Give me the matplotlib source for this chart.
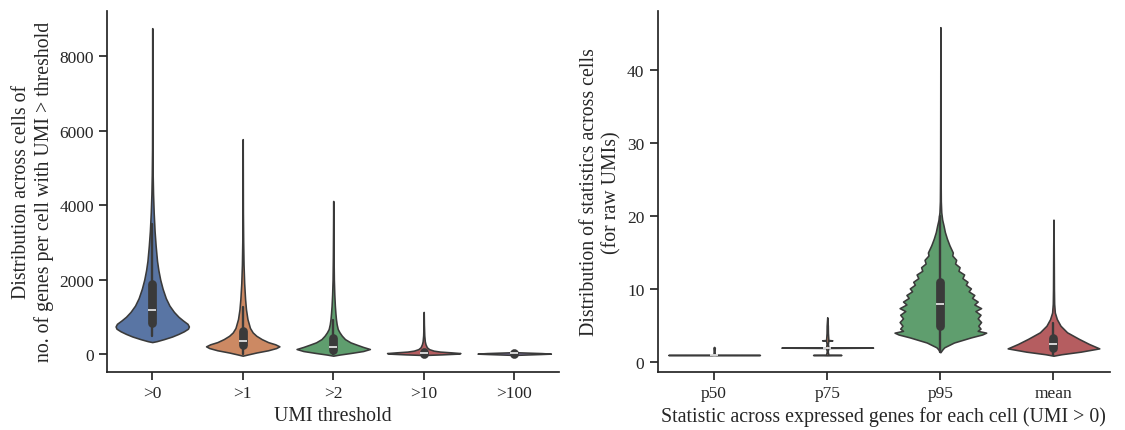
import numpy as np
import seaborn as sns
from matplotlib import pyplot as plt
from matplotlib import rcParams

sns.set_style("ticks")
rcParams['font.family'] = ['Liberation Serif', 'DejaVu Serif']
rcParams['xtick.labelsize'] = 12.5
rcParams['ytick.labelsize'] = 12.5
rcParams['axes.labelsize'] = 14.3
rcParams['axes.linewidth'] = 1.25
rcParams['xtick.major.width'] = 1.25
rcParams['ytick.major.width'] = 1.25
rcParams['xtick.major.size'] = 6
rcParams['ytick.major.size'] = 6

# ---- left panel: genes per cell above each UMI threshold ----
left_cats = [">0", ">1", ">2", ">10", ">100"]

# violin outlines: value levels and half widths
gt0_y = [320, 345, 400, 470, 540, 610, 680, 740, 810, 900, 1000, 1130, 1300, 1500,
         1750, 2000, 2250, 2500, 2900, 3300, 3800, 4300, 4800, 5500, 6500, 8750]
gt0_w = [0, 0.05, 0.13, 0.22, 0.29, 0.35, 0.395, 0.405, 0.39, 0.34, 0.29, 0.24, 0.19, 0.15,
         0.115, 0.088, 0.068, 0.053, 0.038, 0.026, 0.016, 0.009, 0.005, 0.002, 0.001, 0]

gt1_y = [-45, -10, 40, 100, 160, 206, 260, 320, 400, 490, 580, 700, 940, 1200, 1480,
         1900, 2400, 3000, 3800, 5770]
gt1_w = [0, 0.06, 0.15, 0.28, 0.37, 0.405, 0.36, 0.28, 0.21, 0.15, 0.11, 0.08, 0.052, 0.036, 0.026,
         0.016, 0.009, 0.005, 0.002, 0]

gt2_y = [-45, -15, 30, 80, 134, 190, 250, 313, 400, 492, 580, 671, 800, 940, 1100, 1300,
         1600, 2000, 2600, 3300, 4110]
gt2_w = [0, 0.07, 0.2, 0.33, 0.405, 0.33, 0.26, 0.19, 0.13, 0.095, 0.07, 0.05, 0.038, 0.03, 0.024, 0.018,
         0.012, 0.007, 0.004, 0.002, 0]

gt10_y = [-27, -10, 10, 25, 45, 65, 90, 130, 180, 260, 340, 500, 800, 1130]
gt10_w = [0, 0.2, 0.38, 0.405, 0.3, 0.18, 0.11, 0.06, 0.035, 0.02, 0.012, 0.006, 0.002, 0]

gt100_y = [-25, 0, 10, 25, 45, 70]
gt100_w = [0, 0.3, 0.405, 0.3, 0.05, 0]

# inner box: whisker low, q1, median, q3, whisker high
left_box = [[490, 840, 1180, 1890, 3500],
            [0, 230, 360, 620, 1250],
            [0, 100, 200, 420, 900],
            [0, 10, 35, 55, 115],
            [0, 5, 15, 25, 40]]

# ---- right panel: per-cell statistics of raw UMIs ----
right_cats = ["p50", "p75", "p95", "mean"]

p50_y = [0.98, 1.0, 1.02, 1.04, 1.5, 2.0, 2.1]
p50_w = [0, 0.405, 0.02, 0.006, 0.004, 0.006, 0]

p75_y = [0.95, 1.0, 1.05, 1.5, 1.96, 2.0, 2.04, 2.5, 2.95, 3.0, 3.05, 4.0, 5.0, 6.15]
p75_w = [0, 0.125, 0.01, 0.004, 0.01, 0.405, 0.01, 0.006, 0.01, 0.045, 0.01, 0.006, 0.005, 0]

p95_y = [1.37, 1.8, 2.05, 2.7, 3.4, 3.8, 4.05, 4.3, 4.6, 5.0, 5.5, 6.0, 6.5, 7.0, 7.4, 7.9,
         8.3, 8.8, 9.2, 9.7, 10.1, 10.6, 11.0, 11.5, 12.0, 12.5, 13.0, 13.5, 14.0, 14.6,
         15.0, 16.0, 16.9, 17.8, 18.7, 19.5, 20.5, 22, 26, 35, 45.8]
p95_w = [0, 0.02, 0.035, 0.12, 0.27, 0.37, 0.405, 0.33, 0.355, 0.335, 0.36, 0.33, 0.355, 0.31, 0.36, 0.30,
         0.33, 0.28, 0.30, 0.25, 0.27, 0.225, 0.24, 0.195, 0.21, 0.16, 0.17, 0.13, 0.14, 0.105,
         0.11, 0.08, 0.058, 0.04, 0.028, 0.016, 0.008, 0.004, 0.002, 0.001, 0]

mean_y = [0.9, 1.1, 1.45, 1.9, 2.5, 3.2, 4.1, 5.0, 5.9, 6.8, 8, 10, 13, 16, 19.5]
mean_w = [0, 0.07, 0.24, 0.405, 0.315, 0.225, 0.12, 0.062, 0.03, 0.012, 0.006, 0.004, 0.003, 0.002, 0]

right_box = [[1, 1, 1, 1, 1],
             [2, 2, 2, 2, 2],
             [1.4, 5, 8, 11, 20],
             [1.0, 1.9, 2.5, 3.3, 5.4]]

palette = [sns.desaturate(c, 0.75) for c in sns.color_palette("deep")]
line_col = "#3a3a3a"


def draw_violin(ax, pos, ys, ws, color, box):
    ys = np.array(ys)
    ws = np.array(ws)
    ax.fill_betweenx(ys, pos - ws, pos + ws, facecolor=color, edgecolor=line_col,
                     linewidth=1.15, zorder=2)
    lo, q1, med, q3, hi = box
    if hi > lo:
        ax.plot([pos, pos], [lo, hi], color=line_col, lw=1.7, solid_capstyle='round', zorder=3)
    if q3 > q1:
        ax.plot([pos, pos], [q1, q3], color=line_col, lw=6.3, solid_capstyle='round', zorder=3)
    ax.plot(pos, med, marker='_', color='white', markersize=5.5, mew=1.1, zorder=4)


fig, (ax1, ax2) = plt.subplots(1, 2, figsize=(11.25, 4.31), dpi=100)
fig.subplots_adjust(left=0.0951, right=0.9867, bottom=0.1357, top=0.972, wspace=0.2168)

left_shapes = [(gt0_y, gt0_w), (gt1_y, gt1_w), (gt2_y, gt2_w), (gt10_y, gt10_w), (gt100_y, gt100_w)]
for i, (ys, ws) in enumerate(left_shapes):
    draw_violin(ax1, i, ys, ws, palette[i], left_box[i])

right_shapes = [(p50_y, p50_w), (p75_y, p75_w), (p95_y, p95_w), (mean_y, mean_w)]
for i, (ys, ws) in enumerate(right_shapes):
    draw_violin(ax2, i, ys, ws, palette[i], right_box[i])

ax1.set_xlim(-0.5, 4.5)
ax1.set_ylim(-470, 9208)
ax1.set_xticks(range(len(left_cats)))
ax1.set_xticklabels(left_cats)
ax1.set_yticks([0, 2000, 4000, 6000, 8000])
ax1.set_xlabel("UMI threshold")
ax1.set_ylabel("Distribution across cells of\nno. of genes per cell with UMI > threshold")

ax2.set_xlim(-0.5, 3.5)
ax2.set_ylim(-1.26, 48.0)
ax2.set_xticks(range(len(right_cats)))
ax2.set_xticklabels(right_cats)
ax2.set_yticks([0, 10, 20, 30, 40])
ax2.set_xlabel("Statistic across expressed genes for each cell (UMI > 0)")
ax2.set_ylabel("Distribution of statistics across cells\n(for raw UMIs)")

sns.despine()
plt.savefig('out.png')
